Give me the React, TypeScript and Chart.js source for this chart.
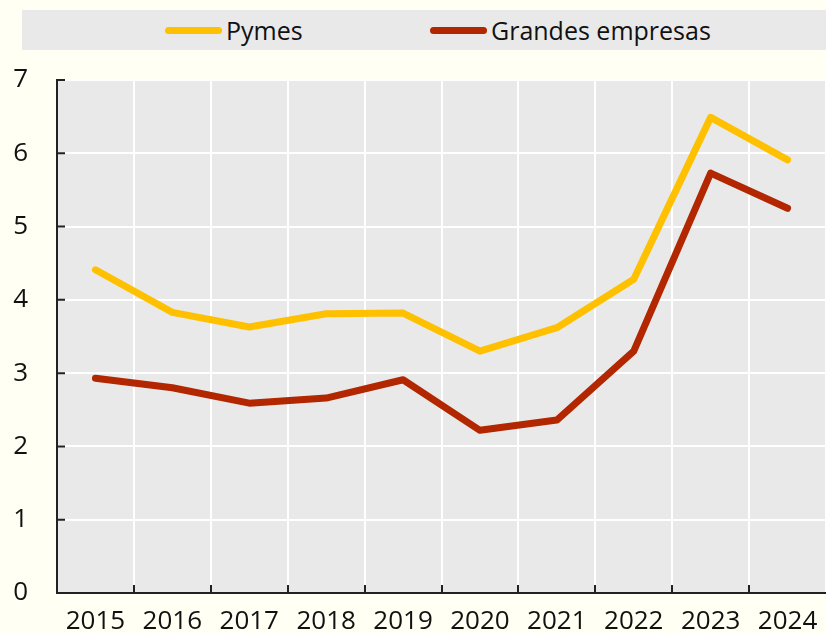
import { useEffect, useRef } from "react";
import { Chart, registerables } from "chart.js";

Chart.register(...registerables);

const years = ["2015", "2016", "2017", "2018", "2019", "2020", "2021", "2022", "2023", "2024"];
const pymes = [4.41, 3.83, 3.63, 3.81, 3.82, 3.3, 3.62, 4.28, 6.49, 5.91];
const grandes = [2.93, 2.8, 2.59, 2.66, 2.91, 2.22, 2.36, 3.3, 5.73, 5.25];
const seriesNames = ["Pymes", "Grandes empresas"];
const seriesColors = ["#FFC000", "#B22600"];
const yMin = 0;
const yMax = 7;
const yStep = 1;

const FONT = "'Open Sans', 'DejaVu Sans', sans-serif";
const BG = "#FFFFF3";
const PLOT_BG = "#E9E9E9";

const bgPlugin = {
  id: "bgPlugin",
  beforeDraw(chart: any) {
    const { ctx, chartArea: a, width, height } = chart;
    ctx.save();
    ctx.fillStyle = BG;
    ctx.fillRect(0, 0, width, height);
    ctx.fillStyle = PLOT_BG;
    ctx.fillRect(a.left, a.top, a.right - a.left, a.bottom - a.top);
    ctx.restore();
  },
  beforeDatasetsDraw(chart: any) {
    const { ctx, chartArea: a } = chart;
    const ys = chart.scales.y;
    ctx.save();
    ctx.strokeStyle = "#222";
    ctx.lineWidth = 2;
    ctx.beginPath();
    ys.ticks.forEach((_t: any, i: number) => {
      const py = ys.getPixelForTick(i);
      ctx.moveTo(a.left, py);
      ctx.lineTo(a.left + 8, py);
    });
    const n = years.length;
    const w = (a.right - a.left) / n;
    for (let i = 1; i < n; i++) {
      const px = Math.round(a.left + i * w);
      ctx.moveTo(px, a.bottom);
      ctx.lineTo(px, a.bottom - 8);
    }
    ctx.stroke();
    ctx.restore();
  },
};

export default function App() {
  const ref = useRef<HTMLCanvasElement | null>(null);
  useEffect(() => {
    document.body.style.margin = "0";
    document.body.style.background = BG;
    if (!ref.current) return;
    const mk = (label: string, data: number[], color: string) => ({
      label,
      data,
      borderColor: color,
      backgroundColor: color,
      borderWidth: 7,
      borderCapStyle: "round" as const,
      borderJoinStyle: "round" as const,
      pointRadius: 0,
      tension: 0,
    });
    const chart = new Chart(ref.current, {
      type: "line",
      data: {
        labels: years,
        datasets: [mk(seriesNames[0], pymes, seriesColors[0]), mk(seriesNames[1], grandes, seriesColors[1])],
      },
      plugins: [bgPlugin],
      options: {
        animation: false,
        responsive: false,
        maintainAspectRatio: false,
        layout: { padding: { left: 8, right: 0, top: 80, bottom: 0 } },
        plugins: {
          tooltip: { enabled: false },
          legend: { display: false },
        },
        scales: {
          x: {
            offset: true,
            grid: { offset: true, color: "#FFFFFF", lineWidth: 2, drawTicks: false },
            border: { color: "#222", width: 2 },
            ticks: { color: "#111", font: { family: FONT, size: 26 }, padding: 13, maxRotation: 0 },
            afterFit: (s: any) => {
              s.height = 40;
              s.paddingLeft = 0;
              s.paddingRight = 0;
            },
          },
          y: {
            min: yMin,
            max: yMax,
            grid: { color: "#FFFFFF", lineWidth: 2, drawTicks: false },
            border: { color: "#222", width: 2 },
            ticks: { stepSize: yStep, color: "#111", font: { family: FONT, size: 26 }, padding: 29 },
            afterFit: (s: any) => {
              s.width = 49;
              s.paddingTop = 0;
              s.paddingBottom = 0;
            },
          },
        },
      },
    });
    return () => chart.destroy();
  }, []);

  const itemStyle = (w?: number): any => ({
    display: "flex",
    alignItems: "center",
    width: w,
  });
  return (
    <div style={{ position: "relative", width: 826, height: 633 }}>
      <canvas ref={ref} width={826} height={633} style={{ display: "block" }} />
      <div
        style={{
          position: "absolute",
          left: 22,
          top: 10,
          width: 804,
          height: 40,
          background: PLOT_BG,
          display: "flex",
          alignItems: "center",
          paddingLeft: 143,
          boxSizing: "border-box",
          fontFamily: FONT,
          fontSize: 25,
          color: "#111",
        }}
      >
        {seriesNames.map((name, i) => (
          <div key={name} style={itemStyle(i === 0 ? 265 : undefined)}>
            <span
              style={{
                display: "inline-block",
                width: 57,
                height: 7,
                borderRadius: 4,
                background: seriesColors[i],
                marginRight: 4,
              }}
            />
            <span style={{ lineHeight: "40px" }}>{name}</span>
          </div>
        ))}
      </div>
    </div>
  );
}
